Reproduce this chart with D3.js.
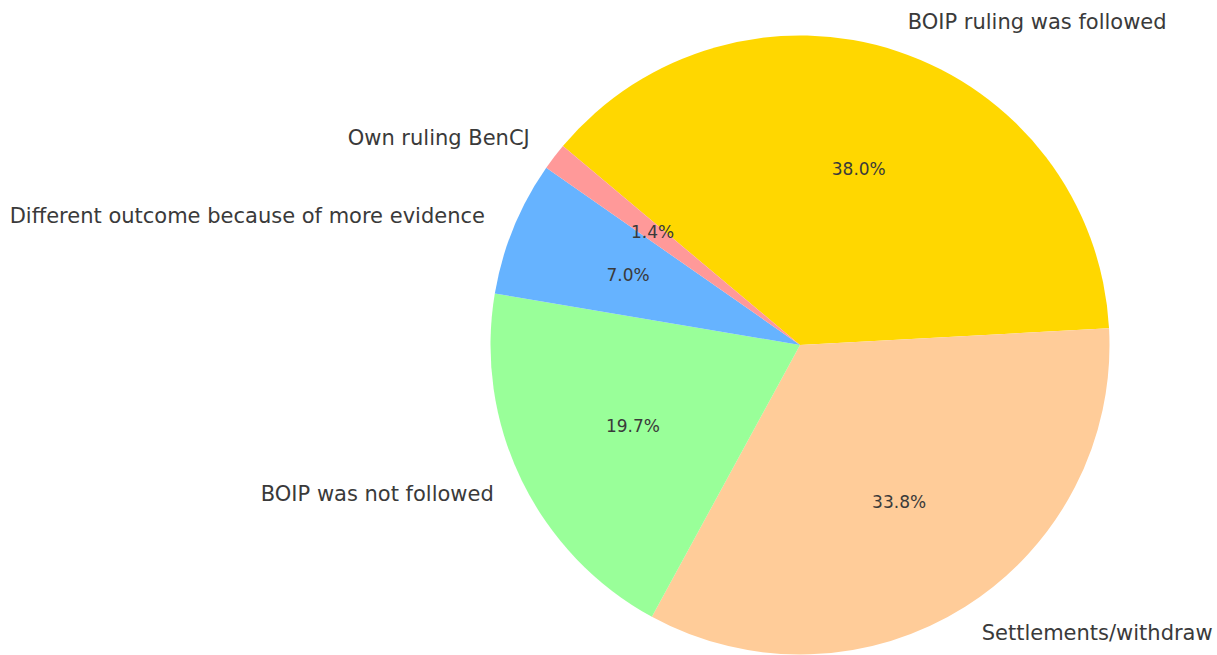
<!DOCTYPE html>
<html>
<head>
<meta charset="utf-8">
<script src="https://cdn.jsdelivr.net/npm/d3@7"></script>
<style>
	body { margin: 0; background: #ffffff; }
	svg text { font-family: "DejaVu Sans", sans-serif; fill: #3a3a3a; }
</style>
</head>
<body>
<div id="chart"></div>
<script>

	///////////////////////////////////////////////////////////////////////////
	///////////////////////////////// Data ////////////////////////////////////
	///////////////////////////////////////////////////////////////////////////

	var categories = ["BOIP ruling was followed", "Settlements/withdraw", "BOIP was not followed",
		"Different outcome because of more evidence", "Own ruling BenCJ"];
	var counts = [27, 24, 14, 5, 1];
	var colors = ["#FFD700", "#FFCC99", "#99FF99", "#66B3FF", "#FF9999"];

	///////////////////////////////////////////////////////////////////////////
	//////////////////// Set up and initiate svg containers ///////////////////
	///////////////////////////////////////////////////////////////////////////

	var width = 1217,
		height = 655;

	var svg = d3.select("#chart")
		.append("svg")
		.attr("width", width)
		.attr("height", height);

	var radius = 309.5;
	var g = svg.append("g")
		.attr("transform", "translate(" + 800 + "," + 345 + ")");

	//Start at 140 degrees (matplotlib style) and run clockwise
	var pie = d3.pie()
		.sort(null)
		.value(function(d) { return d; })
		.startAngle(-50 * Math.PI/180)
		.endAngle(310 * Math.PI/180);

	var arc = d3.arc()
		.innerRadius(0)
		.outerRadius(radius);

	var total = d3.sum(counts);
	var arcs = pie(counts);

	///////////////////////////////////////////////////////////////////////////
	/////////////////////////////// Draw slices ///////////////////////////////
	///////////////////////////////////////////////////////////////////////////

	g.selectAll(".slice")
		.data(arcs)
		.enter().append("path")
		.attr("class", "slice")
		.attr("d", arc)
		.style("fill", function(d,i) { return colors[i]; });

	function midAngle(d) { return (d.startAngle + d.endAngle)/2; }

	//Percentages at 0.6 of the radius
	g.selectAll(".pct")
		.data(arcs)
		.enter().append("text")
		.attr("class", "pct")
		.attr("x", function(d) { return Math.sin(midAngle(d)) * radius * 0.6; })
		.attr("y", function(d) { return -Math.cos(midAngle(d)) * radius * 0.6; })
		.attr("dy", "0.35em")
		.attr("text-anchor", "middle")
		.style("font-size", "17px")
		.text(function(d) { return d3.format(".1f")(d.value/total*100) + "%"; });

	//Category labels at 1.1 of the radius
	g.selectAll(".label")
		.data(arcs)
		.enter().append("text")
		.attr("class", "label")
		.attr("x", function(d) { return Math.sin(midAngle(d)) * radius * 1.1; })
		.attr("y", function(d) { return -Math.cos(midAngle(d)) * radius * 1.1; })
		.attr("dy", "0.35em")
		.attr("text-anchor", function(d) { return Math.sin(midAngle(d)) > 0 ? "start" : "end"; })
		.style("font-size", "21px")
		.text(function(d,i) { return categories[i]; });

</script>
</body>
</html>
